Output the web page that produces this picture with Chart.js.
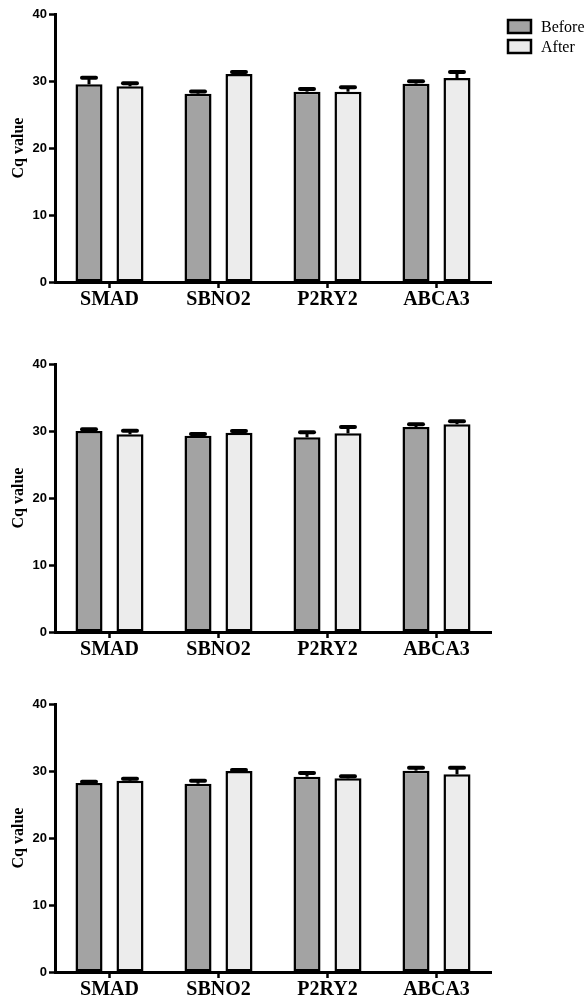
<!DOCTYPE html>
<html>
<head>
<meta charset="utf-8">
<script src="https://cdn.jsdelivr.net/npm/chart.js@4.4.0/dist/chart.umd.min.js"></script>
<style>
  html, body { margin: 0; padding: 0; background: #fff; overflow: hidden; }
  .panel { position: absolute; left: 0; width: 585px; height: 320px; }
  canvas { display: block; }
</style>
</head>
<body>
<div class="panel" style="top:0px"><canvas id="c1" width="585" height="320"></canvas></div>
<div class="panel" style="top:350px"><canvas id="c2" width="585" height="320"></canvas></div>
<div class="panel" style="top:690px"><canvas id="c3" width="585" height="320"></canvas></div>
<script>
// ---- data ----
const categories = ['SMAD', 'SBNO2', 'P2RY2', 'ABCA3'];
const seriesNames = ['Before', 'After'];
const yTicks = [0, 10, 20, 30, 40];
const yTitle = 'Cq value';

const p1Before = [29.5, 28.1, 28.4, 29.6];
const p1BeforeErr = [1.0, 0.35, 0.4, 0.35];
const p1After = [29.2, 31.05, 28.4, 30.45];
const p1AfterErr = [0.45, 0.3, 0.65, 0.9];

const p2Before = [30.0, 29.3, 29.05, 30.6];
const p2BeforeErr = [0.25, 0.25, 0.75, 0.4];
const p2After = [29.5, 29.75, 29.65, 31.0];
const p2AfterErr = [0.55, 0.25, 0.95, 0.45];

const p3Before = [28.2, 28.1, 29.15, 30.05];
const p3BeforeErr = [0.2, 0.45, 0.55, 0.45];
const p3After = [28.55, 30.0, 28.9, 29.5];
const p3AfterErr = [0.3, 0.15, 0.3, 1.0];

const beforeColor = '#a3a3a3';
const afterColor = '#ececec';

const errorBarPlugin = {
  id: 'errorBars',
  afterDatasetsDraw(chart) {
    const ctx = chart.ctx;
    const ys = chart.scales.y;
    chart.data.datasets.forEach((ds, di) => {
      const meta = chart.getDatasetMeta(di);
      meta.data.forEach((bar, i) => {
        const v = ds.data[i];
        const e = ds.errors[i];
        const yTop = ys.getPixelForValue(v);
        const yCap = ys.getPixelForValue(v + e);
        ctx.save();
        ctx.strokeStyle = '#000';
        ctx.lineWidth = 3;
        ctx.beginPath();
        ctx.moveTo(bar.x, yTop);
        ctx.lineTo(bar.x, yCap);
        ctx.stroke();
        ctx.lineWidth = 4;
        ctx.lineCap = 'round';
        ctx.beginPath();
        ctx.moveTo(bar.x - 7, yCap);
        ctx.lineTo(bar.x + 7, yCap);
        ctx.stroke();
        ctx.restore();
      });
    });
  }
};

const legendPlugin = {
  id: 'sideLegend',
  afterDraw(chart, args, opts) {
    if (!opts.show) return;
    const { ctx, chartArea } = chart;
    const x0 = chartArea.right + 17;
    chart.data.datasets.forEach((ds, i) => {
      const cy = chartArea.top + 12.5 + i * 20;
      ctx.save();
      ctx.fillStyle = ds.backgroundColor;
      ctx.strokeStyle = '#000';
      ctx.lineWidth = 2.5;
      ctx.fillRect(x0, cy - 6.5, 23, 13);
      ctx.strokeRect(x0, cy - 6.5, 23, 13);
      ctx.fillStyle = '#000';
      ctx.font = '16px "Liberation Serif"';
      ctx.textBaseline = 'middle';
      ctx.textAlign = 'left';
      ctx.fillText(ds.label, x0 + 33, cy + 1);
      ctx.restore();
    });
  }
};

function makeChart(id, before, beforeErr, after, afterErr, showLegend) {
  return new Chart(document.getElementById(id), {
    type: 'bar',
    data: {
      labels: categories,
      datasets: [
        { label: seriesNames[0], data: before, errors: beforeErr, backgroundColor: beforeColor,
          borderColor: '#000', borderWidth: 2.5, borderSkipped: false },
        { label: seriesNames[1], data: after, errors: afterErr, backgroundColor: afterColor,
          borderColor: '#000', borderWidth: 2.5, borderSkipped: false }
      ]
    },
    options: {
      responsive: false,
      animation: false,
      events: [],
      datasets: { bar: { categoryPercentage: 0.752, barPercentage: 0.66 } },
      layout: { padding: { top: 14, right: 94, left: 0, bottom: 0 } },
      plugins: {
        legend: { display: false },
        tooltip: { enabled: false },
        sideLegend: { show: showLegend }
      },
      scales: {
        x: {
          offset: true,
          afterFit(s) { s.height = 38; },
          border: { display: true, color: '#000', width: 3 },
          grid: { display: true, offset: false, drawOnChartArea: false, drawTicks: true,
                  tickLength: 6, tickWidth: 2.5, tickColor: '#000' },
          ticks: { color: '#000', padding: 0, maxRotation: 0,
                   font: { family: '"Liberation Serif"', size: 20, weight: 'bold' } }
        },
        y: {
          min: 0, max: 40,
          afterFit(s) { s.width = 55; },
          afterBuildTicks(s) { s.ticks = yTicks.map(v => ({ value: v })); },
          border: { display: true, color: '#000', width: 3 },
          grid: { display: true, drawOnChartArea: false, drawTicks: true,
                  tickLength: 6, tickWidth: 2.5, tickColor: '#000' },
          ticks: { color: '#000', padding: 2,
                   font: { family: '"Liberation Sans"', size: 13, weight: 'bold' } },
          title: { display: true, text: yTitle, color: '#000', padding: { top: 9, bottom: 0 },
                   font: { family: '"Liberation Serif"', size: 16, weight: 'bold' } }
        }
      }
    },
    plugins: [errorBarPlugin, legendPlugin]
  });
}

makeChart('c1', p1Before, p1BeforeErr, p1After, p1AfterErr, true);
makeChart('c2', p2Before, p2BeforeErr, p2After, p2AfterErr, false);
makeChart('c3', p3Before, p3BeforeErr, p3After, p3AfterErr, false);
</script>
</body>
</html>
